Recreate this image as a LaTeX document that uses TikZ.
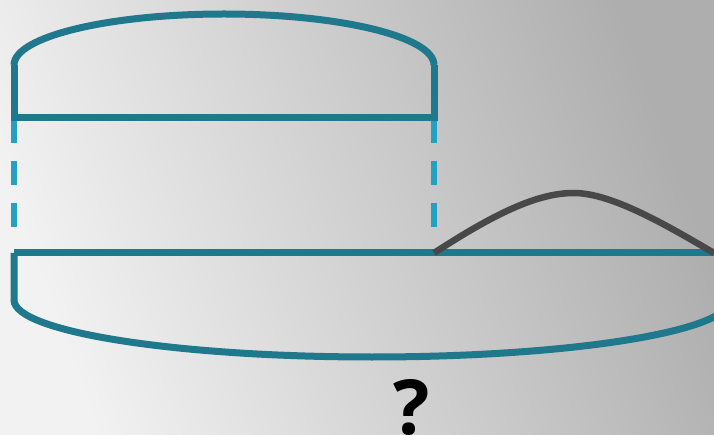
\documentclass[tikz,border=0pt]{standalone}
\usepackage{fontspec}
\setmainfont{Open Sans}
\definecolor{teal1}{HTML}{1F788B}
\definecolor{dashblue}{HTML}{22A2C0}
\definecolor{curvegray}{HTML}{484848}
\definecolor{bglight}{HTML}{F2F2F2}
\definecolor{bgdark}{HTML}{AEAEAE}
\tikzset{
  barline/.style={draw=teal1, line width=7pt, line join=miter},
  dashline/.style={draw=dashblue, line width=6pt, dash pattern=on 24pt off 18pt},
  humpline/.style={draw=curvegray, line width=6.5pt},
  qmark/.style={font=\bfseries\fontsize{76}{76}\selectfont, text=black, inner sep=0pt}
}
\begin{document}
\begin{tikzpicture}[x=1pt,y=-1pt]
\useasboundingbox (0,0) rectangle (714,435);
\shade[left color=bglight, right color=bgdark, shading angle=110] (0,0) rectangle (714,435);
% named points
\coordinate (tl) at (14,118);
\coordinate (tr) at (434,118);
\coordinate (tlu) at (14,65);
\coordinate (tru) at (434,65);
\coordinate (bl) at (14,253);
\coordinate (br) at (730,253);
\coordinate (bld) at (14,300);
\coordinate (brd) at (730,300);
\coordinate (dlend) at (14,227);
\coordinate (drend) at (434,227);
\coordinate (dlstart) at (14,119);
\coordinate (drstart) at (434,119);
\coordinate (hs) at (434,253);
\coordinate (hp) at (574,193);
\coordinate (he) at (714,253);
% dashed connectors
\draw[dashline] (dlstart) -- (dlend);
\draw[dashline] (drstart) -- (drend);
% top bracket
\draw[barline] (tlu) -- (tl) -- (tr) -- (tru);
\draw[barline] (tlu) arc[start angle=180, end angle=360, x radius=210, y radius=51];
% bottom bracket
\draw[barline] (bl) -- (br);
\draw[barline] (br) -- (brd);
\draw[barline] (bl) -- (bld) arc[start angle=180, end angle=0, x radius=358, y radius=57];
% hump
\draw[humpline] (hs) .. controls (500,210) and (540,193) .. (hp) .. controls (612,193) and (668,226) .. (he);
% question mark
\node[qmark] (q) at (412,407) {?};
\end{tikzpicture}
\end{document}
